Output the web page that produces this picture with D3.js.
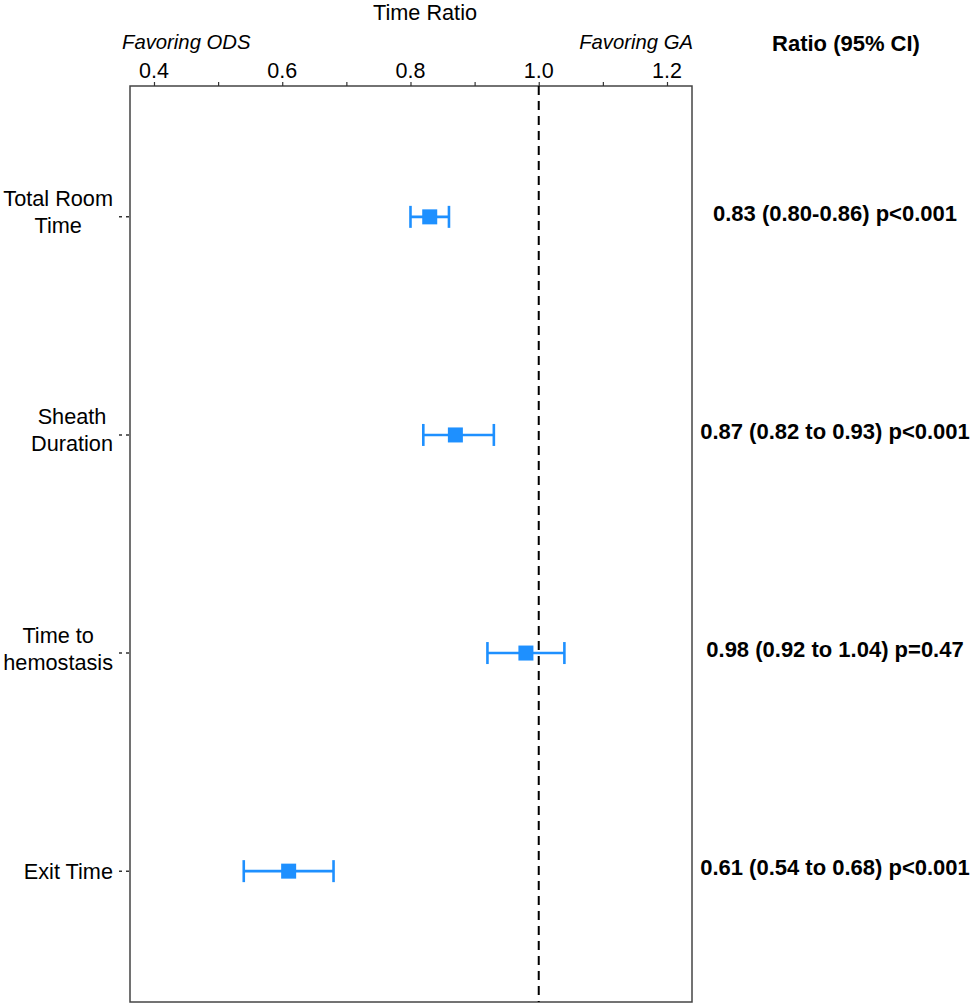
<!DOCTYPE html>
<html>
<head>
<meta charset="utf-8">
<script src="https://cdn.jsdelivr.net/npm/d3@7"></script>
<style>
  body { margin: 0; background: #fff; }
  text { font-family: "Liberation Sans", Arial, sans-serif; fill: #000; }
</style>
</head>
<body>
<div id="chart"></div>
<script>
// Forest plot data
const outcomes = ["Total Room\nTime", "Sheath\nDuration", "Time to\nhemostasis", "Exit Time"];
const ratios = [0.83, 0.87, 0.98, 0.61];
const lower = [0.80, 0.82, 0.92, 0.54];
const upper = [0.86, 0.93, 1.04, 0.68];
const ratioLabels = [
  "0.83 (0.80-0.86) p<0.001",
  "0.87 (0.82 to 0.93) p<0.001",
  "0.98 (0.92 to 1.04) p=0.47",
  "0.61 (0.54 to 0.68) p<0.001"
];
const tickValues = [0.4, 0.5, 0.6, 0.7, 0.8, 0.9, 1.0, 1.1, 1.2];
const labelledTicks = [0.4, 0.6, 0.8, 1.0, 1.2];

const width = 971, height = 1003;
const panel = {left: 130, right: 692, top: 86, bottom: 1002};
const blue = "#1E90FF";

const svg = d3.select("#chart").append("svg")
  .attr("width", width)
  .attr("height", height);

const x = d3.scaleLinear()
  .domain([0.3626, 1.239])
  .range([panel.left, panel.right]);

const y = d3.scalePoint()
  .domain(outcomes)
  .range([panel.top, panel.bottom])
  .padding(0.6);

function addText(g, tx, ty, str, size, opts = {}) {
  return g.append("text")
    .attr("x", tx)
    .attr("y", ty)
    .attr("font-size", size)
    .attr("text-anchor", opts.anchor || "middle")
    .attr("font-weight", opts.weight || "normal")
    .attr("font-style", opts.style || "normal")
    .text(str);
}

// panel border
svg.append("rect")
  .attr("x", panel.left)
  .attr("y", panel.top)
  .attr("width", panel.right - panel.left)
  .attr("height", panel.bottom - panel.top)
  .attr("fill", "none")
  .attr("stroke", "#444")
  .attr("stroke-width", 1.5);

// top axis
const axis = svg.append("g")
  .attr("transform", `translate(0,${panel.top})`)
  .call(d3.axisTop(x).tickValues(tickValues).tickSize(4).tickFormat(""));
axis.select(".domain").remove();
axis.selectAll(".tick line").attr("stroke", "#333").attr("stroke-width", 1.2);

labelledTicks.forEach(v => addText(svg, x(v), 78, d3.format(".1f")(v), 21.5));

// titles
addText(svg, 425, 20, "Time Ratio", 21.7);
addText(svg, 122, 49, "Favoring ODS", 20.3, {anchor: "start", style: "italic"});
addText(svg, 693, 49, "Favoring GA", 20.3, {anchor: "end", style: "italic"});
addText(svg, 846, 51, "Ratio (95% CI)", 22, {weight: "bold"});

// reference line at 1
svg.append("line")
  .attr("x1", x(1)).attr("x2", x(1))
  .attr("y1", panel.top).attr("y2", panel.bottom)
  .attr("stroke", "#000")
  .attr("stroke-width", 2)
  .attr("stroke-dasharray", "9,6");

// y tick marks and labels
outcomes.forEach(name => {
  const yy = y(name);
  svg.append("line")
    .attr("x1", 119).attr("x2", panel.left)
    .attr("y1", yy).attr("y2", yy)
    .attr("stroke", "#333")
    .attr("stroke-width", 1.5)
    .attr("stroke-dasharray", "3,4");

  const lines = name.split("\n");
  const lineH = 27;
  const shift = lines.length > 1 ? -5 : 0;
  const g = svg.append("g");
  const ys = lines.map((ln, i) => yy + shift + (i - (lines.length - 1) / 2) * lineH + 8);
  const texts = lines.map((ln, i) => addText(g, 0, ys[i], ln, 21.7));
  const maxW = d3.max(texts, t => t.node().getComputedTextLength());
  const rightEdge = 113;
  texts.forEach(t => t.attr("x", rightEdge - maxW / 2));
});

// error bars
const rows = svg.append("g").selectAll("g")
  .data(outcomes.map((o, i) => ({o, r: ratios[i], lo: lower[i], hi: upper[i], lab: ratioLabels[i]})))
  .enter().append("g");

rows.append("line")
  .attr("x1", d => x(d.lo)).attr("x2", d => x(d.hi))
  .attr("y1", d => y(d.o)).attr("y2", d => y(d.o))
  .attr("stroke", blue).attr("stroke-width", 2.6);

rows.append("line")
  .attr("x1", d => x(d.lo)).attr("x2", d => x(d.lo))
  .attr("y1", d => y(d.o) - 11).attr("y2", d => y(d.o) + 11)
  .attr("stroke", blue).attr("stroke-width", 2.6);

rows.append("line")
  .attr("x1", d => x(d.hi)).attr("x2", d => x(d.hi))
  .attr("y1", d => y(d.o) - 11).attr("y2", d => y(d.o) + 11)
  .attr("stroke", blue).attr("stroke-width", 2.6);

rows.append("rect")
  .attr("x", d => x(d.r) - 7.5)
  .attr("y", d => y(d.o) - 7.5)
  .attr("width", 15).attr("height", 15)
  .attr("fill", blue);

rows.each(function(d) {
  addText(d3.select(this), 835, y(d.o) + 4, d.lab, 22, {weight: "bold"});
});
</script>
</body>
</html>
